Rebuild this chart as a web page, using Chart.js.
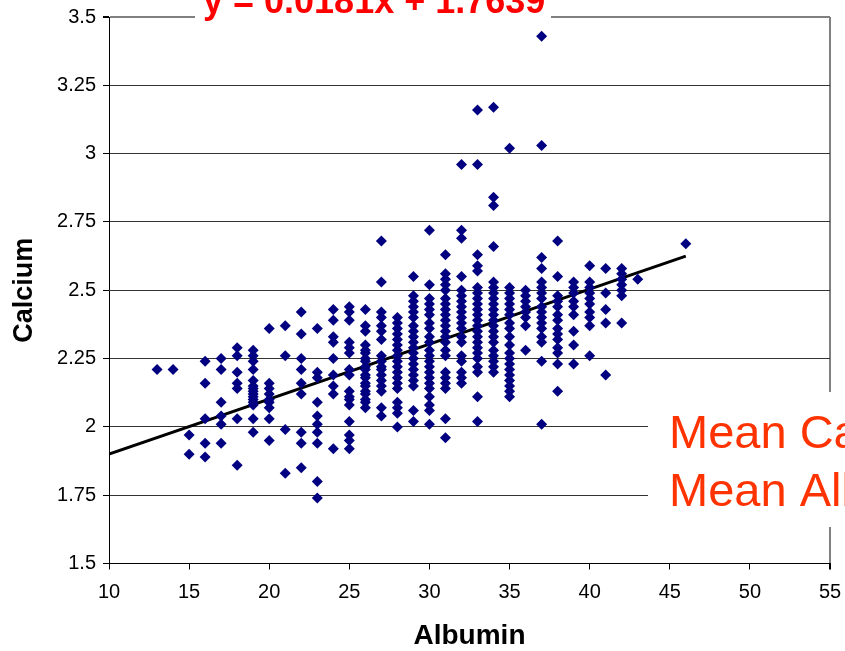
<!DOCTYPE html>
<html>
<head>
<meta charset="utf-8">
<script src="https://cdn.jsdelivr.net/npm/chart.js@4.4.0/dist/chart.umd.min.js"></script>
<style>
  html, body { margin: 0; padding: 0; background: #fff; }
</style>
</head>
<body>
<canvas id="chart" width="845" height="651"></canvas>
<script>
// Albumin values (x) and the calcium readings found at each one
const albuminLevels = [13, 14, 15, 16, 17, 18, 19, 20, 21, 22, 23, 24, 25, 26, 27, 28, 29,
  30, 31, 32, 33, 34, 35, 36, 37, 38, 39, 40, 41, 42, 43, 46];

const calciumByAlbumin = [
  [2.21],
  [2.21],
  [1.97, 1.90],
  [2.24, 2.16, 2.03, 1.94, 1.89],
  [2.25, 2.21, 2.09, 2.04, 2.01, 1.94],
  [2.29, 2.26, 2.20, 2.16, 2.14, 2.03, 1.86],
  [2.28, 2.26, 2.24, 2.21, 2.17, 2.15, 2.14, 2.13, 2.12, 2.11, 2.10, 2.09, 2.08, 2.03, 1.98],
  [2.36, 2.16, 2.14, 2.12, 2.10, 2.09, 2.07, 2.03, 1.95],
  [2.37, 2.26, 1.99, 1.83],
  [2.42, 2.34, 2.25, 2.21, 2.16, 2.12, 1.98, 1.94, 1.85],
  [2.36, 2.20, 2.18, 2.09, 2.04, 2.01, 1.98, 1.94, 1.80, 1.74],
  [2.43, 2.39, 2.33, 2.31, 2.25, 2.19, 2.15, 2.12, 1.92],
  [2.44, 2.42, 2.39, 2.31, 2.29, 2.27, 2.21, 2.19, 2.13, 2.11, 2.10, 2.08, 2.02, 1.97, 1.95, 1.92],
  [2.43, 2.37, 2.35, 2.30, 2.28, 2.27, 2.25, 2.24, 2.22, 2.21, 2.19, 2.18, 2.16, 2.15, 2.13, 2.12, 2.10, 2.09, 2.07],
  [2.68, 2.53, 2.42, 2.40, 2.37, 2.35, 2.32, 2.26, 2.24, 2.22, 2.21, 2.19, 2.17, 2.15, 2.13, 2.07, 2.04],
  [2.40, 2.38, 2.36, 2.34, 2.32, 2.30, 2.28, 2.26, 2.24, 2.22, 2.20, 2.18, 2.16, 2.14, 2.09, 2.07, 2.05, 2.00],
  [2.55, 2.48, 2.46, 2.44, 2.42, 2.40, 2.37, 2.35, 2.33, 2.31, 2.29, 2.27, 2.25, 2.23, 2.21, 2.19, 2.17, 2.15, 2.06, 2.02],
  [2.72, 2.52, 2.47, 2.45, 2.43, 2.41, 2.38, 2.36, 2.33, 2.31, 2.28, 2.26, 2.24, 2.22, 2.20, 2.18, 2.16, 2.14, 2.11, 2.08, 2.06, 2.01],
  [2.63, 2.56, 2.54, 2.52, 2.50, 2.47, 2.45, 2.43, 2.41, 2.39, 2.37, 2.35, 2.33, 2.31, 2.28, 2.26, 2.20, 2.18, 2.16, 2.14, 2.03, 1.96],
  [2.96, 2.72, 2.69, 2.55, 2.50, 2.48, 2.46, 2.44, 2.42, 2.40, 2.38, 2.36, 2.33, 2.31, 2.26, 2.24, 2.20, 2.18, 2.16],
  [3.16, 2.96, 2.63, 2.59, 2.57, 2.51, 2.49, 2.47, 2.45, 2.43, 2.41, 2.39, 2.37, 2.35, 2.33, 2.31, 2.29, 2.27, 2.25, 2.22, 2.20, 2.11, 2.02],
  [3.17, 2.84, 2.81, 2.66, 2.53, 2.51, 2.49, 2.47, 2.45, 2.43, 2.41, 2.39, 2.37, 2.35, 2.33, 2.31, 2.28, 2.26, 2.24, 2.22, 2.20],
  [3.02, 2.51, 2.49, 2.47, 2.45, 2.43, 2.41, 2.38, 2.36, 2.33, 2.30, 2.27, 2.25, 2.23, 2.21, 2.19, 2.17, 2.15, 2.13, 2.11],
  [2.50, 2.48, 2.46, 2.44, 2.42, 2.40, 2.37, 2.28],
  [3.43, 3.03, 2.62, 2.58, 2.53, 2.51, 2.49, 2.47, 2.44, 2.42, 2.40, 2.38, 2.36, 2.33, 2.31, 2.24, 2.01],
  [2.68, 2.55, 2.48, 2.46, 2.44, 2.41, 2.39, 2.36, 2.34, 2.32, 2.29, 2.27, 2.23, 2.13],
  [2.53, 2.51, 2.49, 2.46, 2.44, 2.41, 2.35, 2.30, 2.23],
  [2.59, 2.53, 2.51, 2.49, 2.47, 2.45, 2.42, 2.40, 2.37, 2.26],
  [2.58, 2.49, 2.43, 2.38, 2.19],
  [2.58, 2.56, 2.54, 2.52, 2.50, 2.48, 2.38],
  [2.54],
  [2.67]
];

// Linear trend line end points
const trendAlbumin = [10, 46];
const trendCalcium = [1.90, 2.625];

// Axis ticks
const xTicks = [10, 15, 20, 25, 30, 35, 40, 45, 50, 55];
const yTicks = [1.5, 1.75, 2, 2.25, 2.5, 2.75, 3, 3.25, 3.5];
const yTickLabels = ['1.5', '1.75', '2', '2.25', '2.5', '2.75', '3', '3.25', '3.5'];

const equationText = 'y = 0.0181x + 1.7639';
const meanLines = ['Mean Calcium', 'Mean Albumin'];

const FONT = '"Liberation Sans", Arial, sans-serif';

// Build scatter points
const scatterPoints = [];
albuminLevels.forEach((alb, i) => {
  calciumByAlbumin[i].forEach(ca => scatterPoints.push({ x: alb, y: ca }));
});
const trendPoints = trendAlbumin.map((x, i) => ({ x: x, y: trendCalcium[i] }));

// Text boxes laid over the chart (equation and means)
const overlayText = {
  id: 'overlayText',
  afterDraw(chart) {
    const ctx = chart.ctx;
    ctx.save();
    ctx.fillStyle = '#ffffff';
    ctx.fillRect(195, 0, 356, 22);
    ctx.fillStyle = '#ff0000';
    ctx.font = 'bold 36px ' + FONT;
    ctx.textBaseline = 'alphabetic';
    ctx.textAlign = 'left';
    ctx.fillText(equationText, 203, 13);

    ctx.fillStyle = '#ffffff';
    ctx.fillRect(648, 392, 197, 135);
    ctx.fillStyle = '#ff3300';
    ctx.font = '47px ' + FONT;
    ctx.fillText(meanLines[0], 669, 448);
    ctx.fillText(meanLines[1], 669, 506);
    ctx.restore();
  }
};

new Chart(document.getElementById('chart'), {
  type: 'scatter',
  data: {
    datasets: [{
      label: 'Calcium',
      data: scatterPoints,
      pointStyle: 'rectRot',
      pointRadius: 5.5,
      pointHoverRadius: 5.5,
      backgroundColor: '#000080',
      borderColor: '#000080',
      borderWidth: 0
    }, {
      type: 'line',
      label: 'Trend',
      data: trendPoints,
      borderColor: '#000000',
      borderWidth: 3,
      pointRadius: 0,
      fill: false
    }]
  },
  options: {
    responsive: false,
    animation: false,
    layout: { padding: { top: 17, right: 15, left: 0, bottom: 0 } },
    plugins: {
      legend: { display: false },
      tooltip: { enabled: false }
    },
    scales: {
      x: {
        type: 'linear',
        min: 10,
        max: 55,
        afterBuildTicks: axis => { axis.ticks = xTicks.map(v => ({ value: v })); },
        afterFit: axis => {
          axis.height = 87.5;
          axis.paddingLeft = 0;
          axis.paddingRight = 0;
        },
        border: { display: true, color: '#000000', width: 1 },
        grid: {
          color: c => (c.tick && c.tick.value === 55 ? '#808080' : 'rgba(0,0,0,0)'),
          lineWidth: c => (c.tick && c.tick.value === 55 ? 2 : 1),
          tickColor: '#000000',
          tickLength: 6
        },
        ticks: {
          color: '#000000',
          padding: 11,
          maxRotation: 0,
          font: { family: FONT, size: 20 }
        },
        title: {
          display: true,
          text: 'Albumin',
          color: '#000000',
          font: { family: FONT, size: 28, weight: 'bold', lineHeight: 1 },
          padding: { top: 0, bottom: 1 }
        }
      },
      y: {
        type: 'linear',
        min: 1.5,
        max: 3.5,
        afterBuildTicks: axis => { axis.ticks = yTicks.map(v => ({ value: v })); },
        afterFit: axis => {
          axis.width = 109;
          axis.paddingTop = 0;
          axis.paddingBottom = 0;
        },
        border: { display: true, color: '#000000', width: 1 },
        grid: {
          color: c => (c.tick && c.tick.value === 3.5 ? '#808080' : '#333333'),
          lineWidth: c => (c.tick && c.tick.value === 3.5 ? 2 : 1),
          tickColor: '#000000',
          tickLength: 6
        },
        ticks: {
          color: '#000000',
          padding: 7,
          font: { family: FONT, size: 20 },
          callback: (value, index) => yTickLabels[index]
        },
        title: {
          display: true,
          text: 'Calcium',
          color: '#000000',
          font: { family: FONT, size: 27, weight: 'bold', lineHeight: 1 },
          padding: { top: 11, bottom: 0 }
        }
      }
    }
  },
  plugins: [overlayText]
});
</script>
</body>
</html>
